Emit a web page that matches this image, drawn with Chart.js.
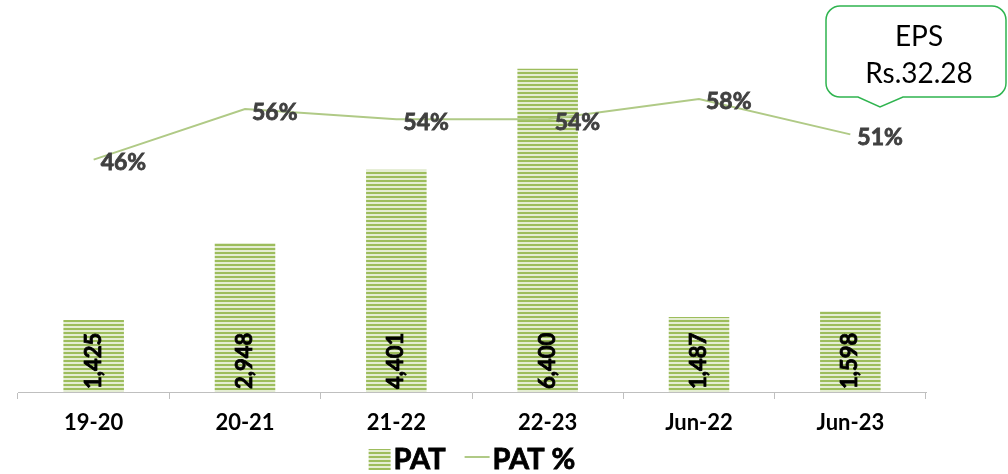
<!DOCTYPE html>
<html>
<head>
<meta charset="utf-8">
<script src="https://cdn.jsdelivr.net/npm/chart.js"></script>
<style>
  html, body { margin: 0; padding: 0; background: #fff; }
  .chartBox { width: 1008px; height: 474px; position: relative; }
</style>
</head>
<body>
<div class="chartBox">
  <canvas id="myChart"></canvas>
</div>
<script>
// PAT (Rs. lakhs) and PAT margin
const categories = ['19-20', '20-21', '21-22', '22-23', 'Jun-22', 'Jun-23'];
const patValues = [1425, 2948, 4401, 6400, 1487, 1598];
const patPercent = [46, 56, 54, 54, 58, 51];
const epsText = ['EPS', 'Rs.32.28'];

const FONT = 'Lato, "Open Sans", sans-serif';
const lineGreen = '#b0ca86';

// horizontal striped fill like the original
function stripes() {
  const c = document.createElement('canvas');
  c.width = 4; c.height = 4;
  const g = c.getContext('2d');
  g.fillStyle = '#e4edd3';
  g.fillRect(0, 0, 4, 4);
  g.fillStyle = '#9dbd5c';
  g.fillRect(0, 0, 4, 2);
  return g.createPattern(c, 'repeat');
}
const barFill = stripes();

// fill + thin stroke so the text looks as heavy as the original
function heavyText(ctx, txt, x, y, color) {
  ctx.fillStyle = color;
  ctx.strokeStyle = color;
  ctx.lineWidth = 0.8;
  ctx.fillText(txt, x, y);
  ctx.strokeText(txt, x, y);
}

const labelPlugin = {
  id: 'labels',
  afterDatasetsDraw(chart) {
    const ctx = chart.ctx;
    ctx.save();
    // values inside bars, rotated
    ctx.font = 'bold 22px ' + FONT;
    ctx.textAlign = 'left';
    ctx.textBaseline = 'middle';
    chart.getDatasetMeta(0).data.forEach((bar, i) => {
      ctx.save();
      ctx.translate(bar.x, bar.base - 3);
      ctx.rotate(-Math.PI / 2);
      heavyText(ctx, patValues[i].toLocaleString('en-US'), 0, 0, '#000');
      ctx.restore();
    });
    // percent labels next to line points
    ctx.font = 'bold 23px ' + FONT;
    chart.getDatasetMeta(1).data.forEach((pt, i) => {
      heavyText(ctx, patPercent[i] + '%', pt.x + 7, pt.y + 3, '#404040');
    });
    ctx.restore();
  },
  afterDraw(chart) {
    const ctx = chart.ctx;
    const area = chart.chartArea;
    ctx.save();
    // legend
    ctx.font = 'bold 29px ' + FONT;
    ctx.textBaseline = 'middle';
    ctx.textAlign = 'left';
    const w1 = ctx.measureText('PAT').width;
    const w2 = ctx.measureText('PAT %').width;
    const total = 22 + 3 + w1 + 19 + 25 + 3 + w2;
    let x = (area.left + area.right) / 2 - total / 2;
    const y = 459;
    ctx.fillStyle = barFill;
    ctx.fillRect(x, y - 10, 22, 21);
    x += 25;
    heavyText(ctx, 'PAT', x, y + 1, '#000');
    x += w1 + 19;
    ctx.strokeStyle = lineGreen;
    ctx.lineWidth = 2;
    ctx.beginPath();
    ctx.moveTo(x, y - 2);
    ctx.lineTo(x + 25, y - 2);
    ctx.stroke();
    x += 28;
    heavyText(ctx, 'PAT %', x, y + 1, '#000');

    // EPS callout
    const bx = 826, by = 6, bw = 180, bh = 91, r = 14;
    const tailL = 858, tailR = 903, tipX = 880, tipY = 107;
    ctx.beginPath();
    ctx.moveTo(bx + r, by);
    ctx.lineTo(bx + bw - r, by);
    ctx.arcTo(bx + bw, by, bx + bw, by + r, r);
    ctx.lineTo(bx + bw, by + bh - r);
    ctx.arcTo(bx + bw, by + bh, bx + bw - r, by + bh, r);
    ctx.lineTo(tailR, by + bh);
    ctx.lineTo(tipX, tipY);
    ctx.lineTo(tailL, by + bh);
    ctx.lineTo(bx + r, by + bh);
    ctx.arcTo(bx, by + bh, bx, by + bh - r, r);
    ctx.lineTo(bx, by + r);
    ctx.arcTo(bx, by, bx + r, by, r);
    ctx.closePath();
    ctx.fillStyle = '#fff';
    ctx.fill();
    ctx.strokeStyle = '#2fb44f';
    ctx.lineWidth = 1.5;
    ctx.stroke();
    ctx.fillStyle = '#000';
    ctx.textAlign = 'center';
    ctx.font = '28px ' + FONT;
    ctx.fillText(epsText[0], bx + bw / 2 + 3, 37);
    ctx.fillText(epsText[1], bx + bw / 2 + 3, 74);
    ctx.restore();
  }
};

const data = {
  labels: categories,
  datasets: [{
    type: 'bar',
    label: 'PAT',
    data: patValues,
    backgroundColor: barFill,
    borderWidth: 0,
    barPercentage: 0.4,
    categoryPercentage: 1,
    yAxisID: 'y',
    order: 2
  }, {
    type: 'line',
    label: 'PAT %',
    data: patPercent,
    borderColor: lineGreen,
    borderWidth: 2,
    pointRadius: 0,
    tension: 0,
    yAxisID: 'y1',
    order: 1
  }]
};

const config = {
  data,
  options: {
    responsive: false,
    animation: false,
    layout: { padding: { left: 18, right: 82, top: 0, bottom: 37 } },
    plugins: { legend: { display: false }, tooltip: { enabled: false } },
    scales: {
      x: {
        grid: { display: true, offset: true, drawOnChartArea: false, drawTicks: true, tickLength: 7, color: '#bfbfbf' },
        border: { display: true, color: '#bfbfbf', width: 1 },
        ticks: { color: '#000', font: { family: FONT, size: 22, weight: 'bold' }, padding: 11 },
        afterFit(scale) { scale.height = 45; }
      },
      y: { display: false, min: 0, max: 7760 },
      y1: { display: false, min: 0, max: 77.6 }
    }
  },
  plugins: [labelPlugin]
};

const canvas = document.getElementById('myChart');
canvas.width = 1008;
canvas.height = 474;
const myChart = new Chart(canvas, config);
</script>
</body>
</html>
